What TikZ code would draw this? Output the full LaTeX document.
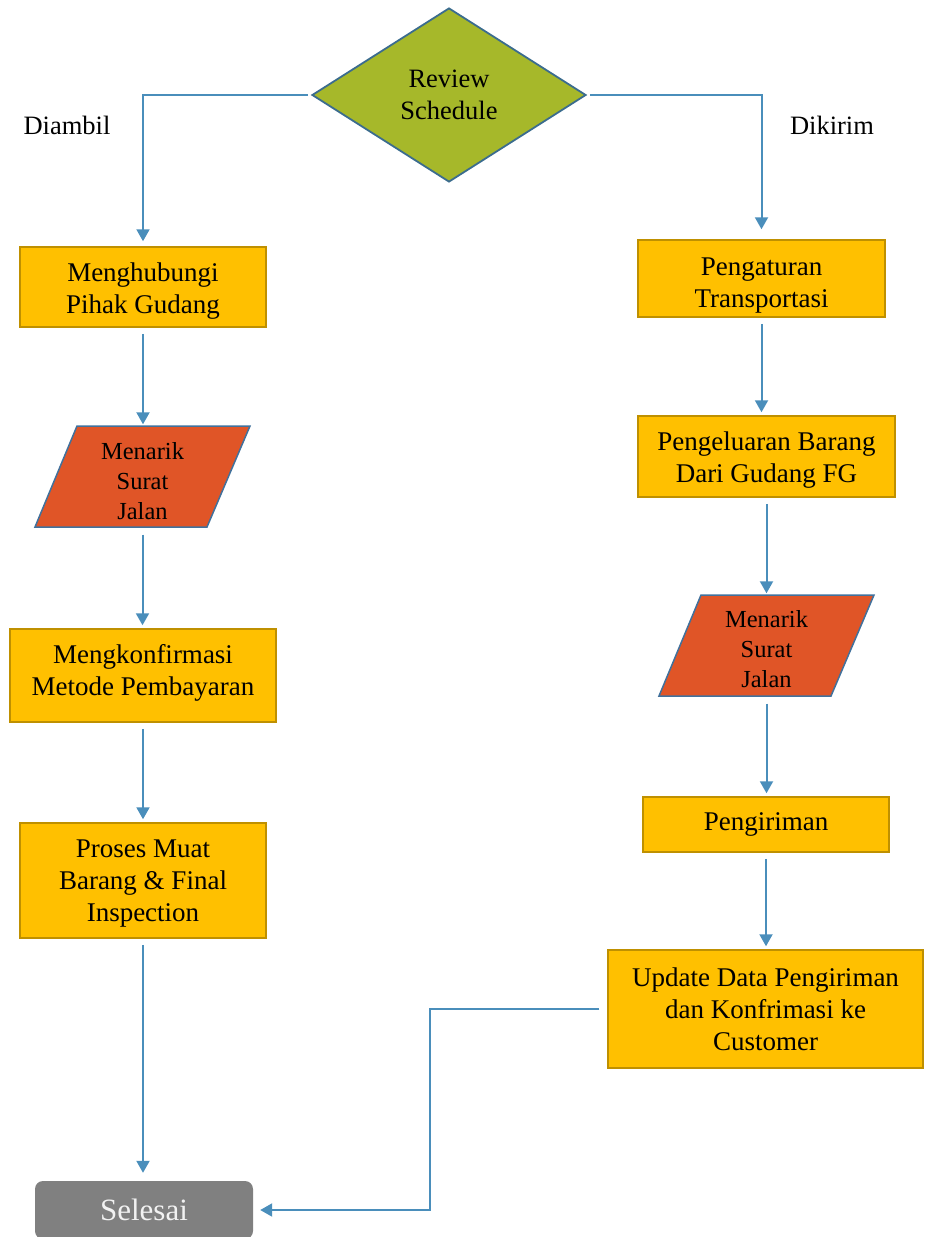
\documentclass[tikz,border=0pt]{standalone}
\usepackage{fontspec}
\setmainfont{Liberation Serif}
\usetikzlibrary{arrows.meta,shapes.geometric}

\definecolor{boxfill}{HTML}{FFC000}
\definecolor{boxline}{HTML}{BF9000}
\definecolor{parafill}{HTML}{E05527}
\definecolor{paraline}{HTML}{41719C}
\definecolor{diafill}{HTML}{A6B82A}
\definecolor{dialine}{HTML}{3B6C8E}
\definecolor{arrowcol}{HTML}{4A8EBB}
\definecolor{endfill}{HTML}{808080}

% vertical struts that nudge box text down (top) or up (bottom)
\newcommand{\topstrut}[1]{\rule{0pt}{#1}}
\newcommand{\botstrut}[1]{\rule[-#1]{0pt}{0pt}}

\tikzset{
  stepbox/.style={draw=boxline, fill=boxfill, line width=1.5pt, inner sep=0pt,
    align=center, font=\fontsize{27}{32}\selectfont},
  parashape/.style={draw=paraline, fill=parafill, line width=1.5pt},
  paratext/.style={inner sep=0pt, minimum width=170pt, minimum height=101pt,
    align=center, font=\fontsize{24.5}{30}\selectfont},
  decision/.style={diamond, draw=dialine, fill=diafill, line width=1.8pt, inner sep=0pt,
    minimum width=274pt, minimum height=174pt, align=center,
    font=\fontsize{26.5}{32}\selectfont},
  endbox/.style={draw=none, fill=endfill, rounded corners=8pt, inner sep=0pt,
    minimum width=218pt, minimum height=58pt, text=white!95!black,
    font=\fontsize{31}{36}\selectfont},
  label/.style={inner sep=0pt, font=\fontsize{26.5}{32}\selectfont},
  arr/.style={draw=arrowcol, line width=2pt,
    -{Triangle[length=12pt, width=13pt]}, shorten <=6pt, shorten >=3pt},
}

\begin{document}
\begin{tikzpicture}[x=1pt, y=-1pt]
\useasboundingbox (0,0) rectangle (932,1237);

% decision
\node[decision] (dia) at (449,95) {Review\\Schedule};
\node[label] (ldiambil) at (67,125) {Diambil};
\node[label] (ldikirim) at (832,125) {Dikirim};

% left branch
\node[stepbox, minimum width=246pt, minimum height=80pt] (b1) at (143,287) {\topstrut{26pt}Menghubungi\\Pihak Gudang};
\draw[parashape] (77,426) -- (250,426) -- (207,527) -- (35,527) -- cycle;
\node[paratext] (p1) at (142.5,478) {\topstrut{22.5pt}Menarik\\Surat\\Jalan};
\node[stepbox, minimum width=266pt, minimum height=93pt] (b2) at (143,675.5) {Mengkonfirmasi\\Metode Pembayaran\botstrut{12pt}};
\node[stepbox, minimum width=246pt, minimum height=115pt] (b3) at (143,880.5) {\topstrut{24pt}Proses Muat\\Barang \& Final\\Inspection};
\node[endbox] (sel) at (144,1210) {Selesai};

% right branch
\node[stepbox, minimum width=247pt, minimum height=77pt] (b4) at (761.5,278.5) {\topstrut{32pt}Pengaturan\\Transportasi};
\node[stepbox, minimum width=257pt, minimum height=81pt] (b5) at (766.5,456.5) {\topstrut{26pt}Pengeluaran Barang\\Dari Gudang FG};
\draw[parashape] (701,595) -- (874,595) -- (831,696) -- (659,696) -- cycle;
\node[paratext] (p2) at (766.5,647) {\topstrut{20.5pt}Menarik\\Surat\\Jalan};
\node[stepbox, minimum width=246pt, minimum height=55pt] (b6) at (766,824.5) {Pengiriman};
\node[stepbox, minimum width=315pt, minimum height=118pt] (b7) at (765.5,1009) {Update Data Pengiriman\\dan Konfrimasi ke\\Customer};

% connectors from the decision
\draw[arr, shorten <=3pt, shorten >=5pt] (dia.west) -| (b1.north);
\draw[arr, shorten <=3pt, shorten >=10pt] (dia.east) -| (b4.north);

% left flow
\draw[arr] (b1.south) -- (b1.south |- p1.north);
\draw[arr] (p1.south) -- (p1.south |- b2.north);
\draw[arr] (b2.south) -- (b2.south |- b3.north);
\draw[arr, shorten >=8pt] (b3.south) -- (b3.south |- sel.north);

% right flow
\draw[arr] (b4.south) -- (b4.south |- b5.north);
\draw[arr] (b5.south) -- (b5.south |- p2.north);
\draw[arr] (p2.south) -- (p2.south |- b6.north);
\draw[arr] (b6.south) -- (b6.south |- b7.north);
\draw[arr, shorten <=8pt, shorten >=7pt] (b7.west) -- (430,1009) |- (sel.east);
\end{tikzpicture}
\end{document}
